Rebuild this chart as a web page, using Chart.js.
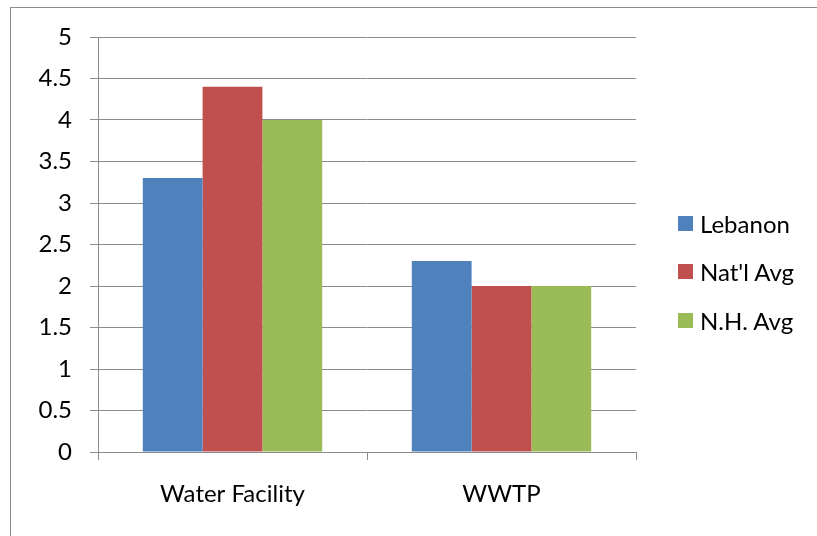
<!DOCTYPE html>
<html>
<head>
<meta charset="utf-8">
<script src="https://cdn.jsdelivr.net/npm/chart.js@4"></script>
<style>
  html, body { margin: 0; padding: 0; background: #fff; }
  #wrap { position: relative; width: 817px; height: 536px; overflow: hidden; }
  #frame { position: absolute; left: 10px; top: 7px; width: 900px; height: 600px; border-left: 1px solid #8c8c8c; border-top: 1px solid #8c8c8c; box-sizing: border-box; }
  canvas { position: absolute; left: 0; top: 0; }
  .leg { position: absolute; left: 678px; font-family: Lato, "Open Sans", sans-serif; font-size: 24px; color: #000; display: flex; align-items: center; height: 24px; }
  .leg span.sw { display: inline-block; width: 15px; height: 15px; margin-right: 7px; }
</style>
</head>
<body>
<div id="wrap">
  <div id="frame"></div>
  <canvas id="c" width="817" height="536"></canvas>
  <div id="legend"></div>
</div>
<script>
const categories = ["Water Facility", "WWTP"];
const seriesNames = ["Lebanon", "Nat'l Avg", "N.H. Avg"];
const lebanon = [3.3, 2.3];
const natlAvg = [4.4, 2.0];
const nhAvg = [4.0, 2.0];
const colors = ["#4F81BD", "#C0504D", "#9BBB59"];
const yTicks = [0, 0.5, 1, 1.5, 2, 2.5, 3, 3.5, 4, 4.5, 5];

const seriesValues = [lebanon, natlAvg, nhAvg];
const gridColor = "#8c8c8c";
const fontFamily = "Lato, 'Open Sans', sans-serif";

const chart = new Chart(document.getElementById("c"), {
  type: "bar",
  data: {
    labels: categories,
    datasets: seriesNames.map((n, i) => ({
      label: n,
      data: seriesValues[i],
      backgroundColor: colors[i],
      borderWidth: 0,
      barPercentage: 1.0,
      categoryPercentage: 0.667
    }))
  },
  options: {
    responsive: false,
    animation: false,
    devicePixelRatio: 1,
    layout: { padding: { left: 0, right: 181, top: 37, bottom: 0 } },
    plugins: { legend: { display: false }, tooltip: { enabled: false } },
    scales: {
      x: {
        grid: { drawOnChartArea: false, drawTicks: true, tickLength: 8, color: gridColor, offset: true },
        border: { color: gridColor, width: 1 },
        ticks: { color: "#000", font: { family: fontFamily, size: 24 }, padding: 20 },
        afterFit: (s) => { s.height = 84; }
      },
      y: {
        min: 0, max: 5,
        afterBuildTicks: (s) => { s.ticks = yTicks.map(v => ({ value: v })); },
        grid: { color: gridColor, tickLength: 8, lineWidth: 1 },
        border: { color: gridColor, width: 1 },
        ticks: { color: "#000", font: { family: fontFamily, size: 24 }, padding: 18,
                 callback: (v) => String(v) },
        afterFit: (s) => { s.width = 98; }
      }
    }
  }
});

const legend = document.getElementById("legend");
const legendTops = [211, 259, 308];
seriesNames.forEach((n, i) => {
  const d = document.createElement("div");
  d.className = "leg";
  d.style.top = legendTops[i] + "px";
  d.innerHTML = '<span class="sw" style="background:' + colors[i] + '"></span><span>' + n + '</span>';
  legend.appendChild(d);
});
</script>
</body>
</html>
